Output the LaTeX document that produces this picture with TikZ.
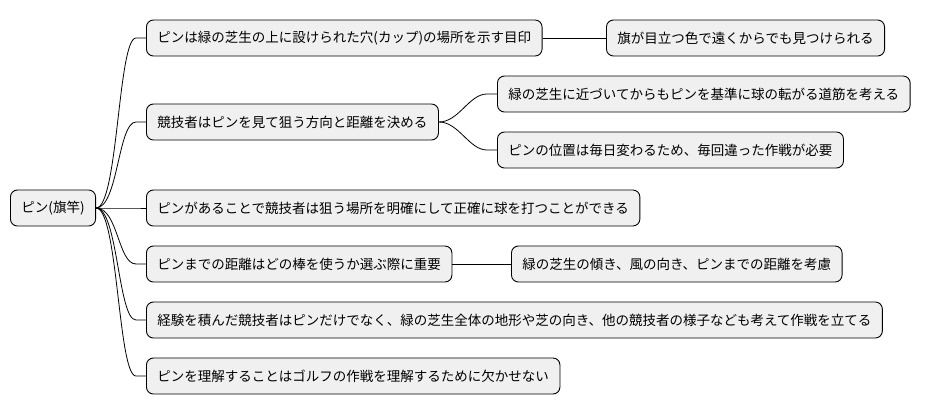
\documentclass[tikz,border=0pt]{standalone}
\usepackage{fontspec}
\newfontfamily\cjk{Noto Sans CJK JP}
\begin{document}
\begin{tikzpicture}[x=1pt,y=-1pt,
  box/.style={draw=black,line width=0.9pt,fill=black!6,rounded corners=7pt,minimum height=36pt,inner xsep=11pt,anchor=west,font=\cjk\fontsize{13.5pt}{15pt}\selectfont},
  conn/.style={line width=0.8pt}]
\useasboundingbox (0,0) rectangle (933,415);
\node[box] (r) at (10,208) {ピン(旗竿)};
\node[box] (n1) at (146,38) {ピンは緑の芝生の上に設けられた穴(カップ)の場所を示す目印};
\node[box] (n1a) at (606,38) {旗が目立つ色で遠くからでも見つけられる};
\node[box] (n2) at (146,122) {競技者はピンを見て狙う方向と距離を決める};
\node[box] (n2a) at (497,94) {緑の芝生に近づいてからもピンを基準に球の転がる道筋を考える};
\node[box] (n2b) at (497,150) {ピンの位置は毎日変わるため、毎回違った作戦が必要};
\node[box] (n3) at (146,208) {ピンがあることで競技者は狙う場所を明確にして正確に球を打つことができる};
\node[box] (n4) at (146,264) {ピンまでの距離はどの棒を使うか選ぶ際に重要};
\node[box] (n4a) at (511,264) {緑の芝生の傾き、風の向き、ピンまでの距離を考慮};
\node[box] (n5) at (146,320) {経験を積んだ競技者はピンだけでなく、緑の芝生全体の地形や芝の向き、他の競技者の様子なども考えて作戦を立てる};
\node[box] (n6) at (146,376) {ピンを理解することはゴルフの作戦を理解するために欠かせない};
\foreach \c in {n1,n2,n3,n4,n5,n6}{
  \draw[conn] (r.east) .. controls ([xshift=22pt]r.east) and ([xshift=-28pt]\c.west |- \c.west) .. ([xshift=-10pt]\c.west) -- (\c.west);
}
\draw[conn] (n1.east) -- (n1a.west);
\draw[conn] (n4.east) -- (n4a.west);
\foreach \c in {n2a,n2b}{
  \draw[conn] (n2.east) .. controls ([xshift=20pt]n2.east) and ([xshift=-28pt]\c.west) .. ([xshift=-10pt]\c.west) -- (\c.west);
}
\end{tikzpicture}
\end{document}
